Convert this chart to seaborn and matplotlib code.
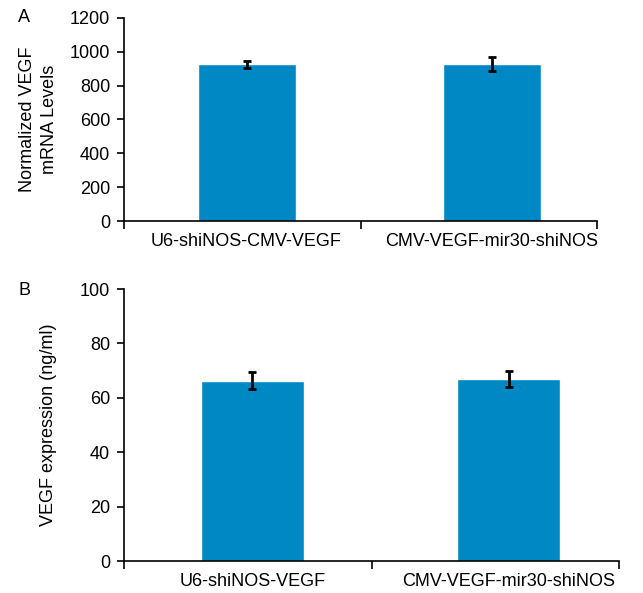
import pandas as pd
import matplotlib
matplotlib.use('Agg')
import matplotlib.pyplot as plt
import seaborn as sns

# data
groups_a = ['U6-shiNOS-CMV-VEGF', 'CMV-VEGF-mir30-shiNOS']
mrna = [926, 930]
mrna_err = [22, 41]

groups_b = ['U6-shiNOS-VEGF', 'CMV-VEGF-mir30-shiNOS']
vegf = [66.3, 66.8]
vegf_err = [3.2, 3.0]

bar_color = '#0088C4'

sns.set_theme(style='white')
plt.rcParams['font.family'] = ['Liberation Sans', 'DejaVu Sans']
plt.rcParams['text.color'] = 'black'
plt.rcParams['axes.labelcolor'] = 'black'
plt.rcParams['xtick.color'] = 'black'
plt.rcParams['ytick.color'] = 'black'

fig = plt.figure(figsize=(6.43, 5.93), dpi=100)
ax_a = fig.add_axes([124/643, 1-221/593, (597-124)/643, (221-18)/593])
ax_b = fig.add_axes([124/643, 1-561/593, (619-124)/643, (561-289)/593])


def draw_panel(ax, groups, vals, errs, ymax, ystep, ylabel, ylab_x):
    df = pd.DataFrame({'group': groups, 'value': vals})
    sns.barplot(data=df, x='group', y='value', color=bar_color, width=0.40,
                saturation=1, errorbar=None, ax=ax)
    ax.errorbar(range(len(vals)), vals, yerr=errs, fmt='none', ecolor='black',
                elinewidth=2, capsize=3, capthick=2)
    # the original axis is a little off-centre against the bars
    ax.set_xlim(-0.5, 1.43)
    ax.set_ylim(0, ymax)
    ax.set_yticks(range(0, ymax + 1, ystep))
    ax.set_xticks([-0.5, 0.465, 1.43], minor=True)
    ax.tick_params(axis='x', which='major', length=0, pad=9, labelsize=13)
    ax.tick_params(axis='x', which='minor', length=6, width=1.2,
                   direction='out', bottom=True)
    ax.tick_params(axis='y', length=5, width=1.2, direction='out',
                   left=True, labelsize=13, pad=5)
    ax.set_xlabel('')
    ax.set_ylabel(ylabel, fontsize=13, linespacing=1.35)
    ax.yaxis.set_label_coords(ylab_x, 0.5)
    for s in ['top', 'right']:
        ax.spines[s].set_visible(False)
    for s in ['left', 'bottom']:
        ax.spines[s].set_color('black')
        ax.spines[s].set_linewidth(1.2)


draw_panel(ax_a, groups_a, mrna, mrna_err, 1200, 200,
           'Normalized VEGF\nmRNA Levels', -0.14)
draw_panel(ax_b, groups_b, vegf, vegf_err, 100, 20,
           'VEGF expression (ng/ml)', -0.135)

fig.text(18/643, 1-18/593, 'A', fontsize=13, ha='left', va='center')
fig.text(18/643, 1-290/593, 'B', fontsize=13, ha='left', va='center')

fig.savefig('out.png', dpi=100)
